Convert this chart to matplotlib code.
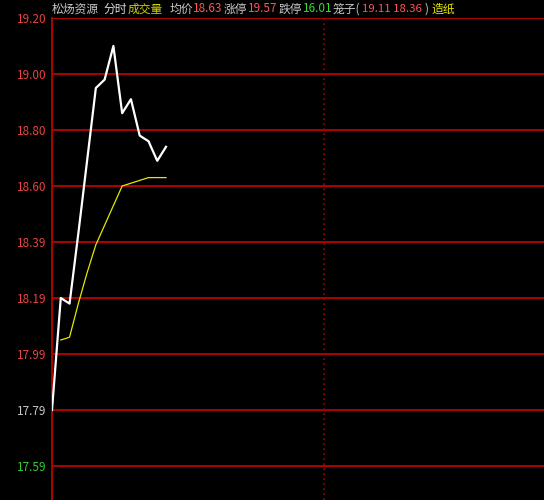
import matplotlib
matplotlib.use("Agg")
import matplotlib.pyplot as plt

plt.rcParams['font.family'] = ['Noto Sans CJK SC', 'DejaVu Sans']

# minute line (white) and average price (yellow)
price = [17.79, 18.19, 18.17, 18.42, 18.68, 18.94, 18.97, 19.09, 18.85, 18.90,
         18.77, 18.75, 18.68, 18.73]
avg_price = [None, 18.04, 18.05, 18.17, 18.28, 18.38, 18.45, 18.52, 18.59, 18.60,
             18.61, 18.62, 18.62, 18.62]

tick_values = [17.59, 17.79, 17.99, 18.19, 18.39, 18.59, 18.79, 18.99, 19.19]
tick_labels = ['17.59', '17.79', '17.99', '18.19', '18.39', '18.60', '18.80', '19.00', '19.20']
tick_colors = ['#33cc33', '#c8c8c8'] + ['#e84444'] * 7

# header: (x pixel, text, colour)
header = [
    (52, '松炀资源', '#c8c8c8'),
    (103, '分时', '#dcdcdc'),
    (128, '成交量', '#d0d000'),
    (170, '均价', '#c8c8c8'),
    (193, '18.63', '#ff5555'),
    (224, '涨停', '#c8c8c8'),
    (248, '19.57', '#ff5555'),
    (279, '跌停', '#c8c8c8'),
    (303, '16.01', '#33dd33'),
    (333, '笼子(', '#c8c8c8'),
    (362, '19.11 18.36', '#ff5555'),
    (425, ')', '#c8c8c8'),
    (431, '造纸', '#e8e800'),
]

W, H = 544, 500
fig = plt.figure(figsize=(W / 100, H / 100), dpi=100, facecolor='black')
ax = fig.add_axes([52 / W, 0, (W - 52) / W, (H - 18) / H], facecolor='black')

grid_red = '#b00000'
for v in tick_values:
    ax.axhline(v, color=grid_red, lw=1.4, zorder=1)
ax.axvline(31, color='#a00000', lw=1.2, ls=(0, (1, 2)), zorder=1)

x = list(range(len(price)))
ax.plot(x, price, color='white', lw=1.6, zorder=3)
ax.plot(x[1:], avg_price[1:], color='#e6e600', lw=0.9, zorder=2)

ax.set_xlim(0, (W - 52) / 8.77)
ax.set_ylim(17.59 - 34 / 56 * 0.2, 19.19)

ax.set_yticks(tick_values)
ax.set_yticklabels(tick_labels, fontsize=8.5)
for lab, c in zip(ax.get_yticklabels(), tick_colors):
    lab.set_color(c)
ax.tick_params(axis='y', length=0, pad=4)
ax.set_xticks([])

for s in ['right', 'bottom', 'top']:
    ax.spines[s].set_visible(False)
ax.spines['left'].set_color(grid_red)
ax.spines['left'].set_linewidth(1.4)

for px, s, c in header:
    fs = 8.5 if s != '19.11 18.36' else 8.2
    fig.text(px / W, 1 - 9 / H, s, color=c, fontsize=fs, va='center', ha='left')

fig.savefig('out.png', dpi=100, facecolor='black')
